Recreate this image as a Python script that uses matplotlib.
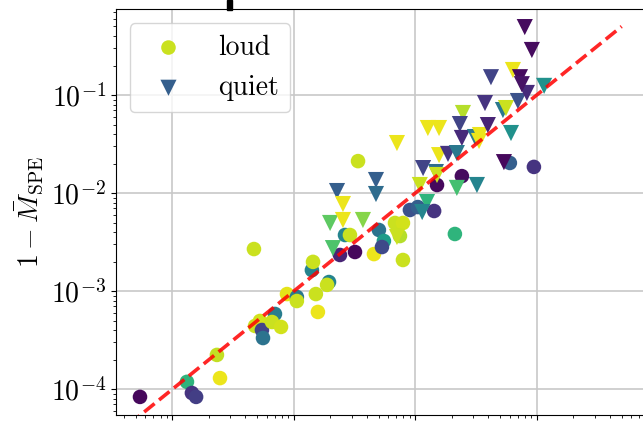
import matplotlib
matplotlib.use("Agg")
import matplotlib.pyplot as plt
from matplotlib.patches import Rectangle
import numpy as np

plt.rcParams["font.family"] = "serif"
plt.rcParams["font.serif"] = ["cmr10"]
plt.rcParams["mathtext.fontset"] = "cm"
plt.rcParams["axes.unicode_minus"] = False
plt.rcParams["axes.formatter.use_mathtext"] = True

# loud events: mismatch of the fit vs. the SPE mismatch, coloured by parameter
loud_x = [4.70e-4, 5.42e-5, 1.32e-4, 1.45e-4, 1.57e-4, 2.33e-4, 2.47e-4,
          4.80e-4, 5.27e-4, 5.47e-4, 5.58e-4, 7.00e-4, 6.62e-4, 7.85e-4,
          8.79e-4, 1.06e-3, 1.06e-3, 1.41e-3, 1.44e-3, 1.52e-3, 1.58e-3,
          1.95e-3, 1.88e-3, 2.64e-3, 2.90e-3, 2.40e-3, 3.19e-3, 4.57e-3,
          5.02e-3, 5.52e-3, 5.32e-3, 6.81e-3, 7.92e-3, 7.48e-3, 7.92e-3,
          3.38e-3, 9.04e-3, 1.05e-2, 1.43e-2, 2.12e-2, 1.51e-2, 2.42e-2,
          6.01e-2, 9.48e-2]
loud_y = [2.69e-3, 8.36e-5, 1.19e-4, 9.16e-5, 8.36e-5, 2.24e-4, 1.30e-4,
          4.42e-4, 4.97e-4, 4.02e-4, 3.33e-4, 5.86e-4, 4.85e-4, 4.32e-4,
          9.35e-4, 8.73e-4, 7.94e-4, 1.64e-3, 1.99e-3, 9.35e-4, 6.14e-4,
          1.24e-3, 1.16e-3, 3.74e-3, 3.74e-3, 2.34e-3, 2.51e-3, 2.39e-3,
          4.21e-3, 3.25e-3, 2.82e-3, 4.96e-3, 4.96e-3, 3.65e-3, 2.08e-3,
          2.12e-2, 6.73e-3, 7.21e-3, 6.57e-3, 3.83e-3, 1.21e-2, 1.49e-2,
          2.03e-2, 1.85e-2]
loud_c = [0.92, 0.02, 0.65, 0.15, 0.18, 0.91, 0.97,
          0.92, 0.93, 0.20, 0.38, 0.42, 0.92, 0.93,
          0.96, 0.40, 0.92, 0.45, 0.92, 0.92, 0.97,
          0.45, 0.92, 0.45, 0.92, 0.10, 0.02, 0.97,
          0.38, 0.55, 0.22, 0.92, 0.93, 0.89, 0.92,
          0.92, 0.25, 0.30, 0.15, 0.65, 0.02, 0.03,
          0.30, 0.15]

# quiet events
quiet_x = [2.27e-3, 4.75e-3, 4.75e-3, 2.54e-3, 1.99e-3, 2.54e-3, 3.71e-3,
           2.10e-3, 7.07e-3, 7.07e-3, 1.09e-2, 1.25e-2, 1.14e-2, 2.20e-2,
           3.22e-2, 1.27e-2, 1.57e-2, 2.47e-2, 2.33e-2, 2.42e-2, 3.10e-2,
           3.41e-2, 3.35e-2, 3.96e-2, 3.75e-2, 4.20e-2, 1.57e-2, 1.86e-2,
           2.20e-2, 1.16e-2, 1.48e-2, 1.51e-2, 5.37e-2, 6.14e-2, 5.27e-2,
           5.58e-2, 7.00e-2, 8.30e-2, 6.37e-2, 7.28e-2, 7.54e-2, 7.97e-2,
           9.12e-2, 1.15e-1]
quiet_y = [1.05e-2, 1.36e-2, 9.79e-3, 7.74e-3, 4.96e-3, 5.32e-3, 5.32e-3,
           2.75e-3, 3.24e-2, 3.57e-3, 1.21e-2, 8.11e-3, 6.41e-3, 1.13e-2,
           1.21e-2, 4.61e-2, 4.61e-2, 6.56e-2, 5.06e-2, 3.65e-2, 3.73e-2,
           3.91e-2, 3.40e-2, 4.94e-2, 8.28e-2, 1.52e-1, 2.44e-2, 2.51e-2,
           2.56e-2, 1.80e-2, 1.64e-2, 1.53e-2, 2.07e-2, 4.10e-2, 7.03e-2,
           7.37e-2, 8.69e-2, 1.05e-1, 1.80e-1, 1.52e-1, 1.29e-1, 4.93e-1,
           2.88e-1, 1.24e-1]
quiet_c = [0.30, 0.30, 0.35, 0.97, 0.75, 0.97, 0.82,
           0.72, 0.97, 0.92, 0.92, 0.65, 0.45, 0.70,
           0.45, 0.97, 0.97, 0.89, 0.20, 0.12, 0.40,
           0.97, 0.97, 0.10, 0.15, 0.20, 0.97, 0.15,
           0.40, 0.20, 0.35, 0.92, 0.02, 0.50, 0.40,
           0.92, 0.25, 0.12, 0.97, 0.03, 0.05, 0.03,
           0.03, 0.50]

ref_line = [3e-5, 0.5]

W, H = 643, 423
fig = plt.figure(figsize=(W / 100, H / 100), dpi=100)
# axes run past the right edge of the canvas
ax = fig.add_axes([115.7 / W, (H - 414.5) / H, (658.2 - 115.7) / W, (414.5 - 9.5) / H])

ax.scatter(loud_x, loud_y, c=loud_c, cmap="viridis", vmin=0, vmax=1,
           marker="o", s=110, linewidths=0, label="loud", zorder=3)
ax.scatter(quiet_x, quiet_y, c=quiet_c, cmap="viridis", vmin=0, vmax=1,
           marker="v", s=135, linewidths=0, label="quiet", zorder=3)
ax.plot(ref_line, ref_line, ls="--", color="red", alpha=0.85, lw=2.6, zorder=4)

ax.set_xscale("log")
ax.set_yscale("log")
ax.set_xlim(3.42e-5, 1.0)
ax.set_ylim(5.53e-5, 0.745)
ax.grid(True, which="major", color="#c8c8c8", lw=1.2)
ax.set_axisbelow(True)
ax.tick_params(labelsize=20)
# x labels sit below the visible canvas
ax.tick_params(axis="x", labelbottom=False)
ax.set_ylabel(r"$1-\bar{M}_{\mathrm{SPE}}$", fontsize=20)

ax.legend(loc="upper left", fontsize=20, framealpha=0.8)

# bit of the panel above poking into view
fig.add_artist(Rectangle((227 / W, 1 - 10 / H), 5 / W, 10 / H,
                         transform=fig.transFigure, color="k"))

fig.savefig("out.png", dpi=100)
